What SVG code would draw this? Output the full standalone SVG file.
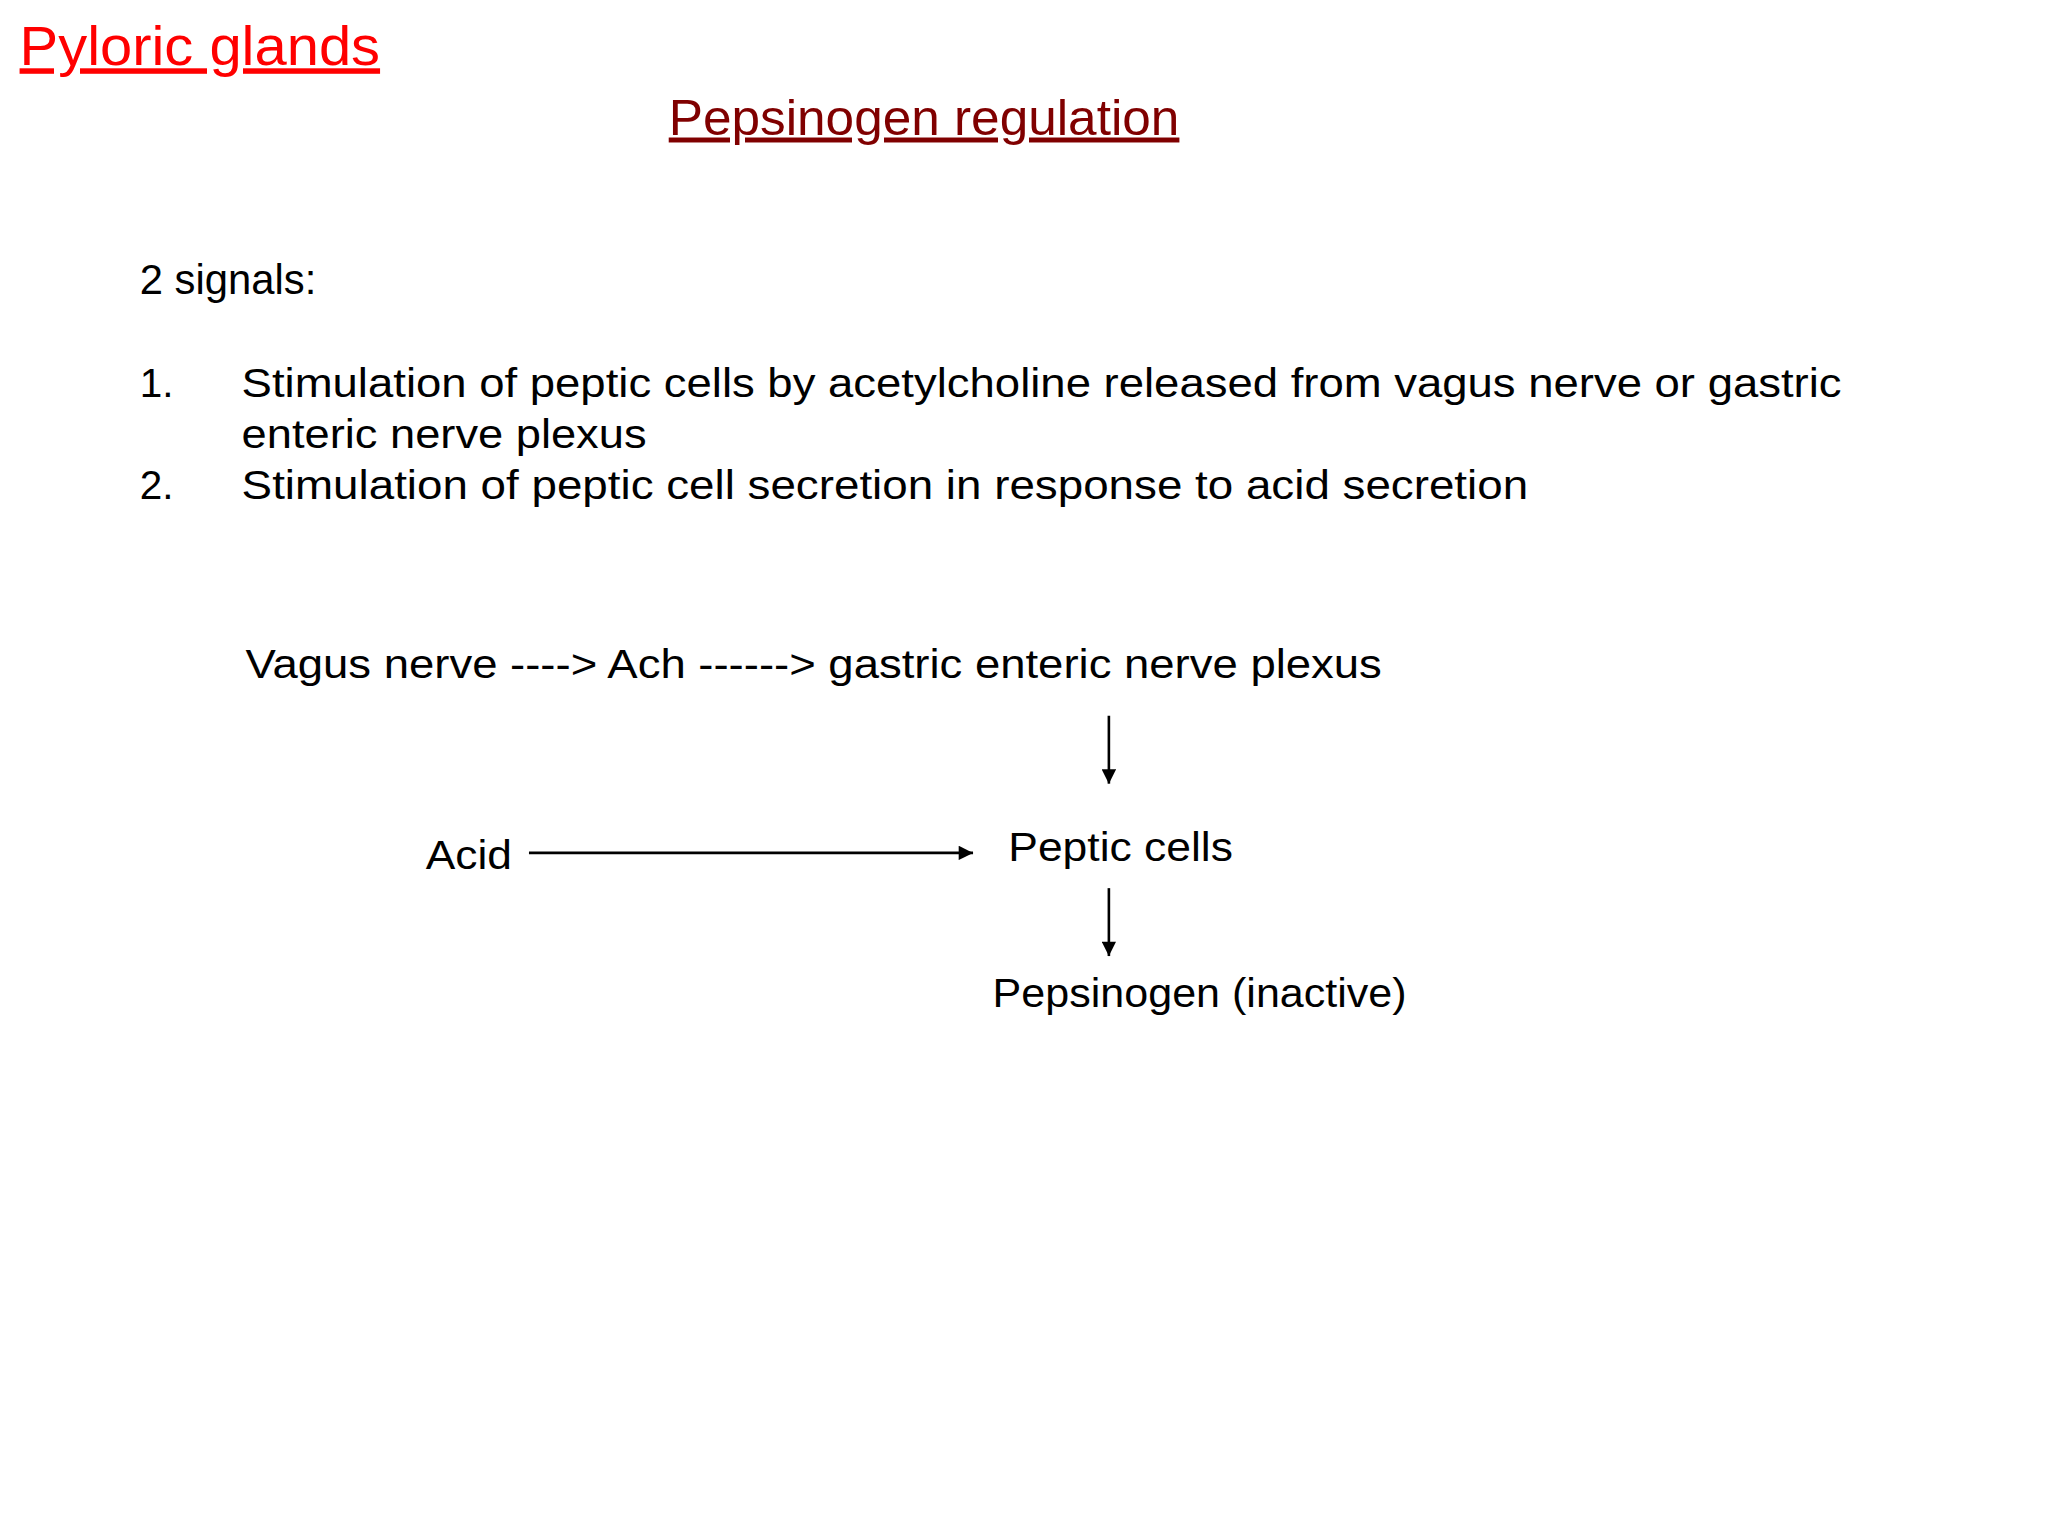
<svg xmlns="http://www.w3.org/2000/svg" width="2048" height="1536" viewBox="0 0 2048 1536">
<defs>
<style>
text{font-family:"Liberation Sans","DejaVu Sans",sans-serif;fill:#000;font-size:31px}
.conn line{stroke:#000;stroke-width:2}
</style>
<marker id="ah" viewBox="0 0 10 10" refX="10" refY="5" markerWidth="12" markerHeight="11" markerUnits="userSpaceOnUse" orient="auto"><path d="M0,0L10,5L0,10z" fill="#000"/></marker>
</defs>
<rect width="2048" height="1536" fill="#fff"/>
<g transform="scale(1.3061)">
<text x="15" y="50" textLength="276" lengthAdjust="spacingAndGlyphs" style="fill:#f00;font-size:42px;text-decoration:underline">Pyloric glands</text>
<text x="512" y="103" textLength="391" lengthAdjust="spacingAndGlyphs" style="fill:#800000;font-size:38px;text-decoration:underline">Pepsinogen regulation</text>
<text x="107" y="225" style="font-size:32px">2 signals:</text>
<text x="107" y="304">1.</text>
<text x="185" y="304" textLength="1225" lengthAdjust="spacingAndGlyphs">Stimulation of peptic cells by acetylcholine released from vagus nerve or gastric</text>
<text x="185" y="343" textLength="310" lengthAdjust="spacingAndGlyphs">enteric nerve plexus</text>
<text x="107" y="382">2.</text>
<text x="185" y="382" textLength="985" lengthAdjust="spacingAndGlyphs">Stimulation of peptic cell secretion in response to acid secretion</text>
<g id="vagus"><text x="188" y="519" textLength="870" lengthAdjust="spacingAndGlyphs">Vagus nerve ----&gt; Ach ------&gt; gastric enteric nerve plexus</text></g>
<g id="acid"><text x="326" y="665" textLength="66" lengthAdjust="spacingAndGlyphs">Acid</text></g>
<g id="peptic"><text x="772" y="659" textLength="172" lengthAdjust="spacingAndGlyphs">Peptic cells</text></g>
<g id="pepsinogen"><text x="760" y="771" textLength="317" lengthAdjust="spacingAndGlyphs">Pepsinogen (inactive)</text></g>
<g class="conn">
<line x1="849" y1="548" x2="849" y2="600" marker-end="url(#ah)"/>
<line x1="405" y1="653" x2="745" y2="653" marker-end="url(#ah)"/>
<line x1="849" y1="680" x2="849" y2="732" marker-end="url(#ah)"/>
</g>
</g>
</svg>
